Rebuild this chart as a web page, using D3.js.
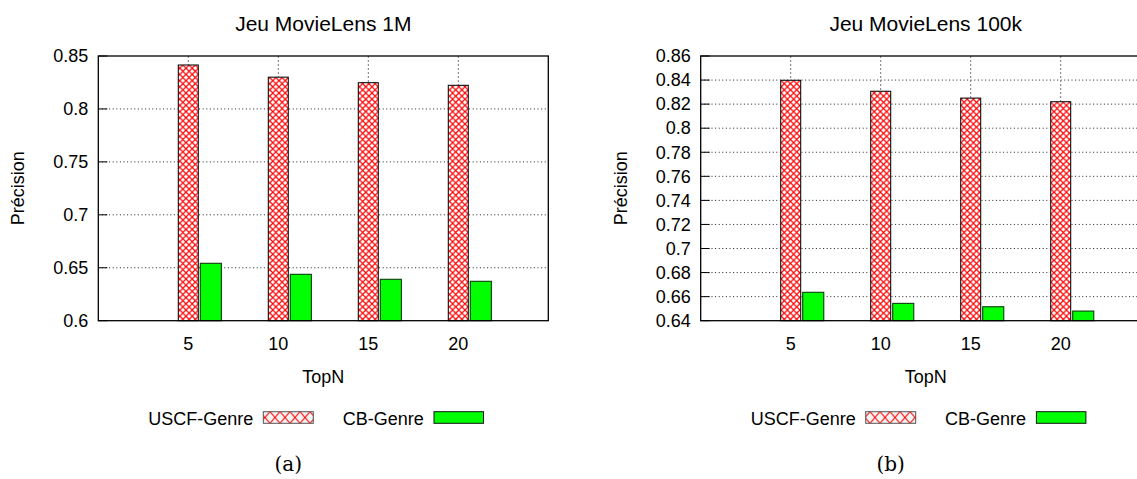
<!DOCTYPE html>
<html>
<head>
<meta charset="utf-8">
<script src="https://cdn.jsdelivr.net/npm/d3@7"></script>
<style>
  html, body { margin: 0; padding: 0; background: #fff; }
  svg { display: block; }
  text { font-family: "Liberation Sans", Arial, sans-serif; fill: #000; }
</style>
</head>
<body>
<svg id="chart" width="1137" height="479"></svg>
<script>
// ---- data ----
const categories = [5, 10, 15, 20];
const seriesNames = ["USCF-Genre", "CB-Genre"];
const titles = ["Jeu MovieLens 1M", "Jeu MovieLens 100k"];
const captions = ["(a)", "(b)"];
const uscf1M = [0.8415, 0.8300, 0.8248, 0.8223];
const cb1M = [0.6542, 0.6438, 0.6391, 0.6372];
const uscf100k = [0.8398, 0.8307, 0.8250, 0.8220];
const cb100k = [0.6636, 0.6544, 0.6516, 0.6480];
const yTicks1M = [0.6, 0.65, 0.7, 0.75, 0.8, 0.85];
const yTicks100k = [0.64, 0.66, 0.68, 0.7, 0.72, 0.74, 0.76, 0.78, 0.8, 0.82, 0.84, 0.86];
const xLabel = "TopN";
const yLabel = "Précision";

const svg = d3.select("#chart");
const defs = svg.append("defs");

// crosshatch pattern
const pat = defs.append("pattern")
  .attr("id", "xhatch").attr("patternUnits", "userSpaceOnUse")
  .attr("width", 6.2).attr("height", 6.2);
pat.append("rect").attr("width", 6.2).attr("height", 6.2).attr("fill", "#fff");
pat.append("path").attr("d", "M0,0L6.2,6.2M6.2,0L0,6.2")
  .attr("stroke", "#ff0000").attr("stroke-width", 1.2).attr("fill", "none");

const patL = defs.append("pattern")
  .attr("id", "xhatchL").attr("patternUnits", "userSpaceOnUse")
  .attr("width", 10).attr("height", 11.6).attr("y", 411.7);
patL.append("rect").attr("width", 10).attr("height", 11.6).attr("fill", "#f4f4f4");
patL.append("path").attr("d", "M0,0L10,11.6M10,0L0,11.6")
  .attr("stroke", "#ff0000").attr("stroke-width", 1.1).attr("fill", "none");

const fmt = v => String(+v.toFixed(2));

function panel(ox, title, caption, uscf, cb, ticks) {
  const left = ox + 98.3, W = 450, top = 56, bottom = 320.7;
  const x = d3.scaleLinear().domain([0, 25]).range([left, left + W]);
  const y = d3.scaleLinear().domain([ticks[0], ticks[ticks.length - 1]]).range([bottom, top]);
  const g = svg.append("g");

  // horizontal grid
  g.selectAll(".hg").data(ticks.slice(1, -1)).join("line")
    .attr("x1", left).attr("x2", left + W)
    .attr("y1", d => y(d)).attr("y2", d => y(d))
    .attr("stroke", "#222").attr("stroke-width", 1).attr("stroke-dasharray", "1,2.6");
  // vertical grid
  g.selectAll(".vg").data(categories).join("line")
    .attr("x1", d => x(d)).attr("x2", d => x(d))
    .attr("y1", top).attr("y2", bottom)
    .attr("stroke", "#777").attr("stroke-width", 1).attr("stroke-dasharray", "2,2");

  const bw = x(1.11) - x(0);
  const off2 = x(0.667) - x(0);
  const bw2 = x(1.17) - x(0);
  // USCF bars
  g.selectAll(".b1").data(categories).join("rect")
    .attr("x", d => x(d) - bw / 2).attr("width", bw)
    .attr("y", (d, i) => y(uscf[i])).attr("height", (d, i) => bottom - y(uscf[i]))
    .attr("fill", "url(#xhatch)").attr("stroke", "#111").attr("stroke-width", 1.1);
  // CB bars
  g.selectAll(".b2").data(categories).join("rect")
    .attr("x", d => x(d) + off2).attr("width", bw2)
    .attr("y", (d, i) => y(cb[i])).attr("height", (d, i) => bottom - y(cb[i]))
    .attr("fill", "#00ff00").attr("stroke", "#0b3d0b").attr("stroke-width", 1.1);

  // y tick marks
  g.selectAll(".yt").data(ticks).join("line")
    .attr("x1", left).attr("x2", left + 9)
    .attr("y1", d => y(d)).attr("y2", d => y(d))
    .attr("stroke", "#000").attr("stroke-width", 1);

  // frame
  g.append("rect").attr("x", left).attr("y", top).attr("width", W).attr("height", bottom - top)
    .attr("fill", "none").attr("stroke", "#000").attr("stroke-width", 1.3);

  // y tick labels
  g.selectAll(".yl").data(ticks).join("text")
    .attr("x", left - 10).attr("y", d => y(d) + 6.3)
    .attr("text-anchor", "end").attr("font-size", 18).text(fmt);
  // x tick labels
  g.selectAll(".xl").data(categories).join("text")
    .attr("x", d => x(d)).attr("y", 349.5)
    .attr("text-anchor", "middle").attr("font-size", 18).text(d => d);

  // title
  g.append("text").attr("x", left + W / 2).attr("y", 31)
    .attr("text-anchor", "middle").attr("font-size", 21).text(title);
  // axis labels
  g.append("text").attr("x", left + W / 2).attr("y", 383)
    .attr("text-anchor", "middle").attr("font-size", 18).text(xLabel);
  g.append("text").attr("transform", `translate(${left - 74},${(top + bottom) / 2}) rotate(-90)`)
    .attr("text-anchor", "middle").attr("font-size", 18).text(yLabel);

  // legend
  g.append("text").attr("x", left + 50).attr("y", 425).attr("font-size", 18).text(seriesNames[0]);
  g.append("rect").attr("x", left + 165).attr("y", 411.7).attr("width", 50).attr("height", 11.6)
    .attr("fill", "url(#xhatchL)").attr("stroke", "#555").attr("stroke-width", 1);
  g.append("text").attr("x", left + 244.4).attr("y", 425).attr("font-size", 18).text(seriesNames[1]);
  g.append("rect").attr("x", left + 335.7).attr("y", 411.7).attr("width", 49.5).attr("height", 11.6)
    .attr("fill", "#00ff00").attr("stroke", "#111").attr("stroke-width", 1);

  // caption
  g.append("text").attr("x", ox + 288.3).attr("y", 471).attr("text-anchor", "middle")
    .style("font-family", "'DejaVu Serif', serif").attr("font-size", 20).text(caption);
}

panel(0, titles[0], captions[0], uscf1M, cb1M, yTicks1M);
panel(602.4, titles[1], captions[1], uscf100k, cb100k, yTicks100k);
</script>
</body>
</html>
